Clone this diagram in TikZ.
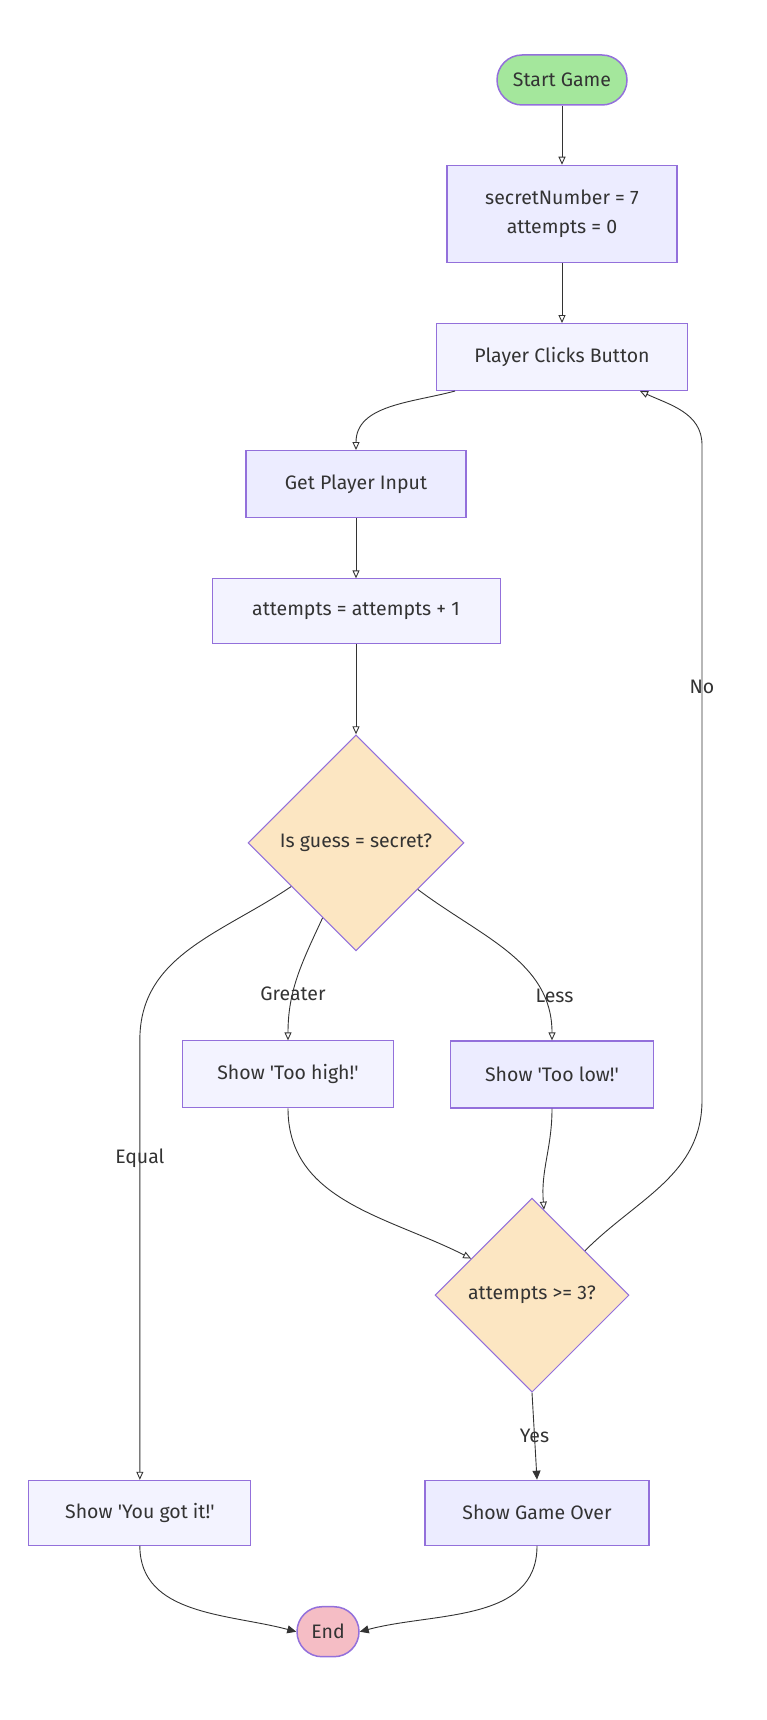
\documentclass[tikz,border=0pt]{standalone}
\usepackage{fontspec}
\setmainfont{Fira Sans}
\usepackage{xcolor}
\definecolor{mmfill}{HTML}{ECECFF}
\definecolor{mmhatch}{HTML}{F3F3FF}
\definecolor{mmline}{HTML}{9370DB}
\definecolor{mmedge}{HTML}{333333}
\definecolor{mmdec}{HTML}{FCE6C2}
\definecolor{mmstart}{HTML}{A4E79C}
\definecolor{mmend}{HTML}{F5BDC5}
\usetikzlibrary{positioning,arrows.meta,shapes.geometric}
\tikzset{
  pbox/.style ={rectangle, draw=mmline, line width=1.3pt, fill=mmfill, align=center,
                minimum height=67pt, inner sep=4pt, text=mmedge,
                font=\fontsize{19.5}{29.5}\selectfont},
  hbox/.style ={pbox, fill=mmhatch, line width=1pt},
  check/.style={diamond, draw=mmline, line width=1pt, fill=mmdec, inner sep=0pt,
                text=mmedge, font=\fontsize{19.5}{24}\selectfont},
  term/.style ={rectangle, rounded corners=25pt, draw=mmline, line width=1.5pt,
                minimum height=50pt, text=mmedge, font=\fontsize{19.5}{24}\selectfont},
  arr/.style  ={-{Triangle[open, length=8pt, width=7pt]}, draw=mmedge, line width=0.9pt},
  sarr/.style ={-{Triangle[length=9pt, width=8pt]}, draw=mmedge, line width=0.9pt},
  el/.style   ={text=mmedge, inner sep=1pt, font=\fontsize{19.5}{24}\selectfont},
}

\begin{document}
\begin{tikzpicture}[x=1pt, y=1pt]
  \useasboundingbox (0,0) rectangle (766,-1720);
  \node[term, fill=mmstart, minimum width=130pt] (start) at (562,-80) {Start Game};
  \node[pbox, minimum width=230pt, minimum height=97pt, below=59pt of start] (init) {secretNumber = 7\\attempts = 0};
  \node[hbox, minimum width=251pt, below=60pt of init] (click) {Player Clicks Button};
  \node[pbox, minimum width=220pt, below=59pt of click, xshift=-206pt] (input) {Get Player Input};
  \node[hbox, minimum width=288pt, minimum height=65pt, below=60pt of input] (incr) {attempts = attempts + 1};
  \node[check, minimum width=216pt, minimum height=216pt, below=90pt of incr] (guess) {Is guess = secret?};
  \node[hbox, minimum width=211pt, below=89pt of guess, xshift=-68pt] (high) {Show \textquotesingle Too high!\textquotesingle};
  \node[pbox, minimum width=203pt, below=89pt of guess, xshift=196pt] (low) {Show \textquotesingle Too low!\textquotesingle};
  \node[check, minimum width=194pt, minimum height=194pt, below=89pt of low, xshift=-20pt] (over) {attempts >= 3?};
  \node[pbox, minimum width=224pt, minimum height=65pt, below=87pt of over, xshift=5pt] (gover) {Show Game Over};
  \node[hbox, minimum width=222pt, minimum height=65pt, left=173pt of gover] (win) {Show \textquotesingle You got it!\textquotesingle};
  \node[term, fill=mmend, minimum width=62pt, below=60pt of gover, xshift=-209pt] (end) {End};

  \coordinate (nobot) at (702,-1100);
  \coordinate (notop) at (702,-445);

  \draw[arr] (start) -- (init);
  \draw[arr] (init) -- (click);
  \draw[arr] ([xshift=-107pt]click.south) to[out=-165,in=90] (input.north);
  \draw[arr] (input) -- (incr);
  \draw[arr] (incr) -- (guess);
  \draw[arr] (guess.-114) to[out=-115,in=90] node[el,pos=0.64]{Greater} (high.north);
  \draw[arr] (guess.-37) to[out=-37,in=90] node[el,pos=0.78,xshift=12pt]{Less} (low.north);
  \draw[arr] (guess.-146) to[out=-146,in=90] ([yshift=440pt]win.north) -- node[el,pos=0.27]{Equal} (win.north);
  \draw[arr] (high.south) to[out=-90,in=153] (over.149);
  \draw[arr] (low.south) to[out=-90,in=95] (over.82);
  \draw[arr] (over.40) to[out=45,in=-90] (nobot) -- node[el,pos=0.63]{No} (notop) to[out=90,in=-25] ([xshift=78pt]click.south);
  \draw[sarr] (over.south) -- node[el]{Yes} (gover.north);
  \draw[sarr] (win.south) to[out=-90,in=165] (end.west);
  \draw[sarr] (gover.south) to[out=-90,in=15] (end.east);
\end{tikzpicture}
\end{document}
